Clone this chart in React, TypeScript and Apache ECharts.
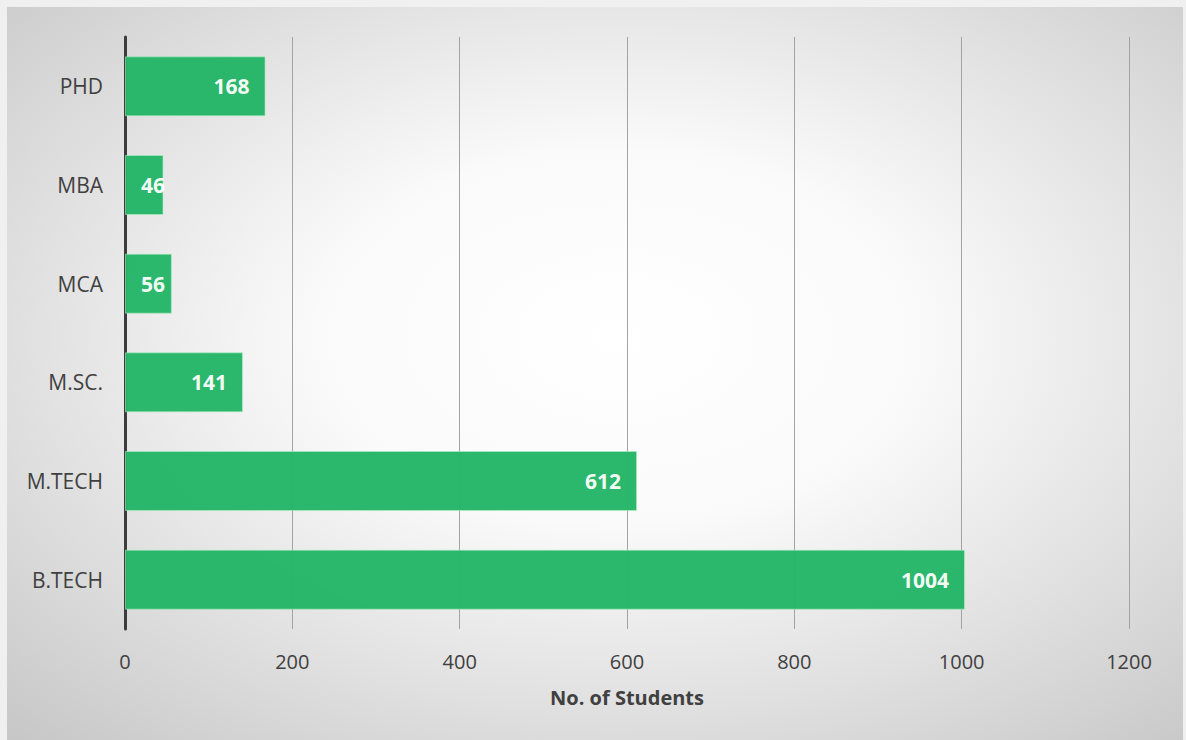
import React, { useEffect, useRef } from "react";
import * as echarts from "echarts";

const categories = ["B.TECH", "M.TECH", "M.SC.", "MCA", "MBA", "PHD"];
const students = [1004, 612, 141, 56, 46, 168];
const axisName = "No. of Students";
const xMin = 0;
const xMax = 1200;
const xStep = 200;

const FONT = "'Open Sans', 'Noto Sans', sans-serif";

export default function App() {
  const ref = useRef<HTMLDivElement>(null);
  useEffect(() => {
    if (!ref.current) return;
    const chart = echarts.init(ref.current, undefined, { renderer: "svg" });
    chart.setOption({
      animation: false,
      backgroundColor: {
        type: "radial",
        x: 0.52,
        y: 0.45,
        r: 0.85,
        colorStops: [
          { offset: 0, color: "#ffffff" },
          { offset: 0.3, color: "#fafafa" },
          { offset: 1, color: "#bdbdbd" },
        ],
      },
      grid: { left: 118, right: 54, top: 30, bottom: 111, containLabel: false },
      xAxis: {
        type: "value",
        min: xMin,
        max: xMax,
        interval: xStep,
        name: axisName,
        nameLocation: "middle",
        nameGap: 58,
        nameTextStyle: { fontFamily: FONT, fontSize: 20, fontWeight: "bold", color: "#404040" },
        axisLine: { show: false },
        axisTick: { show: false },
        axisLabel: {
          fontFamily: FONT,
          fontSize: 20,
          color: "#404040",
          margin: 22,
          formatter: (v: number) => String(v),
        },
        splitLine: { show: true, lineStyle: { color: "#a3a3a3", width: 1 } },
      },
      yAxis: {
        type: "category",
        data: categories,
        axisLine: { show: true, lineStyle: { color: "#3c3c3c", width: 3 } },
        axisTick: { show: false },
        axisLabel: { fontFamily: FONT, fontSize: 21, color: "#404040", margin: 22 },
      },
      series: [
        {
          type: "bar",
          barWidth: 60,
          data: students.map((v) => ({
            value: v,
            label: v < 100 ? { position: "insideLeft" } : { position: "insideRight" },
          })),
          itemStyle: {
            color: "#22b566",
            opacity: 0.96,
            borderColor: "rgba(180,240,200,0.6)",
            borderWidth: 1,
          },
          label: {
            show: true,
            distance: 16,
            formatter: "{c}",
            fontFamily: FONT,
            fontSize: 21,
            fontWeight: "bold",
            color: "#ffffff",
          },
        },
      ],
    });
    return () => chart.dispose();
  }, []);
  return (
    <div
      style={{
        position: "fixed",
        left: 0,
        top: 0,
        width: 1186,
        height: 740,
        background: "#f0f0f0",
      }}
    >
      <div
        ref={ref}
        style={{ position: "absolute", left: 7, top: 7, width: 1176, height: 733 }}
      />
    </div>
  );
}
